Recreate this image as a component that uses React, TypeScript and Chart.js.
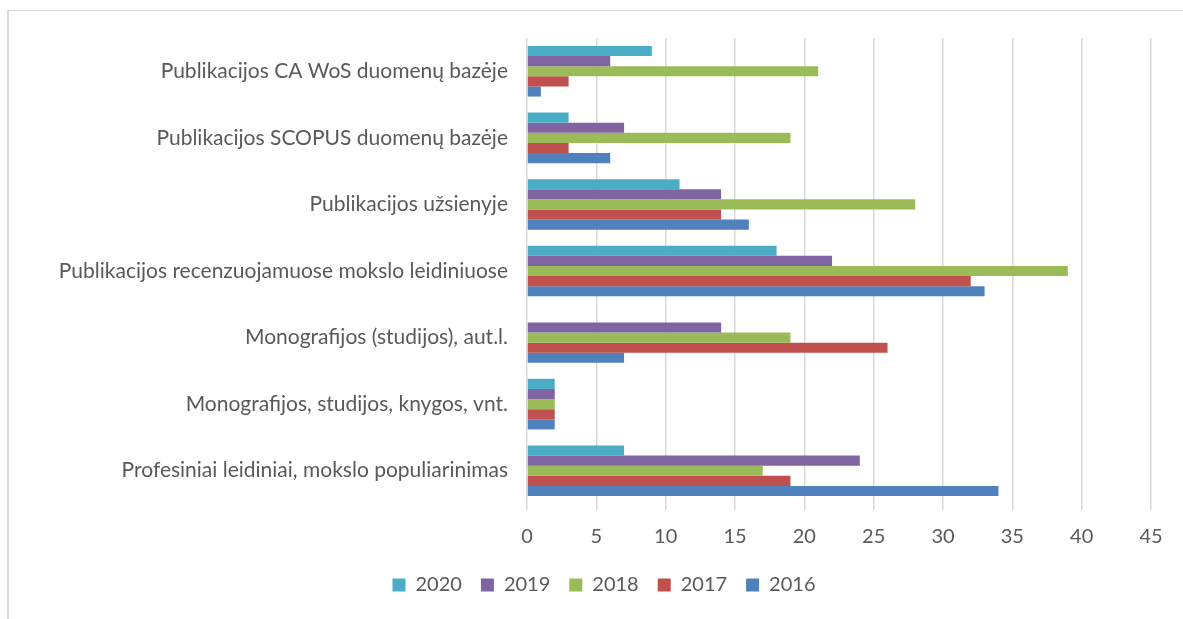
import React, { useEffect, useRef } from "react";
import { Chart, registerables } from "chart.js";

Chart.register(...registerables);

const categories = [
  "Publikacijos CA WoS duomenų bazėje",
  "Publikacijos SCOPUS duomenų bazėje",
  "Publikacijos užsienyje",
  "Publikacijos recenzuojamuose mokslo leidiniuose",
  "Monografijos (studijos), aut.l.",
  "Monografijos, studijos, knygos, vnt.",
  "Profesiniai leidiniai, mokslo populiarinimas",
];

const seriesLabels = ["2020", "2019", "2018", "2017", "2016"];
const values2020 = [9, 3, 11, 18, 0, 2, 7];
const values2019 = [6, 7, 14, 22, 14, 2, 24];
const values2018 = [21, 19, 28, 39, 19, 2, 17];
const values2017 = [3, 3, 14, 32, 26, 2, 19];
const values2016 = [1, 6, 16, 33, 7, 2, 34];
const seriesColors = ["#4BACC6", "#8064A2", "#9BBB59", "#C0504D", "#4F81BD"];
const xTicks = [0, 5, 10, 15, 20, 25, 30, 35, 40, 45];

export default function App() {
  const ref = useRef<HTMLCanvasElement>(null);
  useEffect(() => {
    if (!ref.current) return;
    const all = [values2020, values2019, values2018, values2017, values2016];
    const font = "Lato, 'Open Sans', sans-serif";
    const chart = new Chart(ref.current, {
      type: "bar",
      data: {
        labels: categories,
        datasets: all.map((v, i) => ({
          label: seriesLabels[i],
          data: v,
          backgroundColor: seriesColors[i],
          borderWidth: 0,
          barPercentage: 1,
          categoryPercentage: 0.76,
        })),
      },
      options: {
        indexAxis: "y",
        animation: false,
        responsive: false,
        maintainAspectRatio: false,
        layout: { padding: { top: 38, right: 32, bottom: 14, left: 57 } },
        plugins: {
          tooltip: { enabled: false },
          legend: {
            position: "bottom",
            labels: {
              boxWidth: 13,
              boxHeight: 13,
              padding: 19,
              color: "#595959",
              font: { family: font, size: 20 },
            },
          },
        },
        scales: {
          x: {
            min: 0,
            max: 45,
            afterBuildTicks: (s: any) => {
              s.ticks = xTicks.map((v) => ({ value: v }));
            },
            grid: { color: "#d9d9d9", lineWidth: 1.5, tickLength: 6, drawTicks: true },
            border: { display: false },
            ticks: { color: "#595959", font: { family: font, size: 20 }, padding: 15 },
            afterFit: (s: any) => {
              s.height = 52;
            },
          },
          y: {
            grid: { display: false },
            border: { display: false },
            ticks: { color: "#595959", font: { family: font, size: 21 }, padding: 11, autoSkip: false },
            afterFit: (s: any) => {
              s.width = 470;
            },
          },
        },
      },
    });
    return () => chart.destroy();
  }, []);
  return (
    <div style={{ position: "absolute", left: 0, top: 0, width: 1183, height: 619, background: "#fff" }}>
      <div
        style={{
          position: "absolute",
          left: 7,
          top: 10,
          width: 1176,
          height: 609,
          borderTop: "1px solid #d9d9d9",
          borderLeft: "2px solid #d9d9d9",
          boxSizing: "border-box",
        }}
      />
      <canvas ref={ref} width={1183} height={619} style={{ position: "absolute", left: 0, top: 0 }} />
    </div>
  );
}
